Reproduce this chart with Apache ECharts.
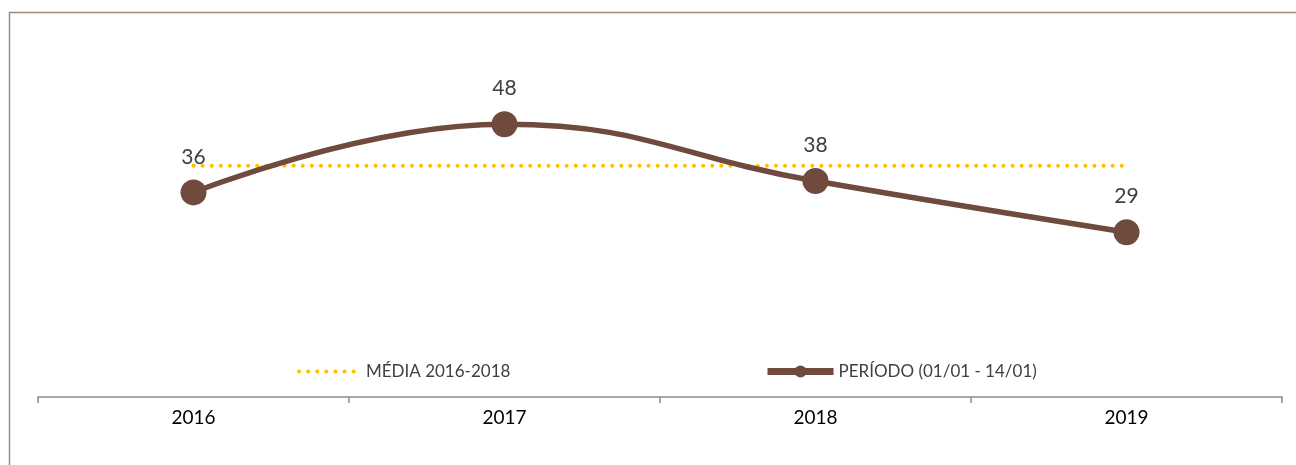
<!DOCTYPE html>
<html><head><meta charset="utf-8">
<script src="https://cdn.jsdelivr.net/npm/echarts@6/dist/echarts.min.js"></script>
<style>html,body{margin:0;padding:0;background:#fff}#c{width:1296px;height:465px}</style>
</head><body><div id="c"></div>
<script>
const categories = ['2016', '2017', '2018', '2019'];
const periodValues = [36, 48, 38, 29];
const averageValues = [40.67, 40.67, 40.67, 40.67];
const seriesNames = ['MÉDIA 2016-2018', 'PERÍODO (01/01 - 14/01)'];

const brown = '#704A3C';
const yellow = '#FFC000';
const font = 'Lato, "Open Sans", sans-serif';

const chart = echarts.init(document.getElementById('c'));
chart.setOption({
  animation: false,
  backgroundColor: '#fff',
  graphic: [{
    type: 'rect', shape: {x: 9.5, y: 12.5, width: 1400, height: 600},
    style: {fill: 'none', stroke: '#A08A80', lineWidth: 1.5}
  }],
  grid: {left: 38, right: 14, top: 56, bottom: 68},
  legend: [
    {data: [seriesNames[0]], left: 292, top: 358, itemWidth: 62, itemHeight: 14, itemGap: 6,
     itemStyle: {opacity: 0},
     lineStyle: {width: 4, type: [0.1, 9], cap: 'round', color: yellow},
     textStyle: {fontFamily: font, fontSize: 17, color: '#404040'}},
    {data: [seriesNames[1]], left: 759, top: 358, itemWidth: 66, itemHeight: 15, itemGap: 5,
     lineStyle: {width: 7, color: brown},
     textStyle: {fontFamily: font, fontSize: 17, color: '#404040'}}
  ],
  xAxis: {
    type: 'category', data: categories, boundaryGap: true,
    axisLine: {lineStyle: {color: '#8C8C8C', width: 1.5}},
    axisTick: {show: true, length: 6, inside: false, lineStyle: {color: '#8C8C8C', width: 1.5}},
    axisLabel: {fontFamily: font, fontSize: 19, color: '#000', margin: 11}
  },
  yAxis: {type: 'value', min: 0, max: 60, show: false, splitLine: {show: false}},
  series: [
    {
      name: seriesNames[0], type: 'line', data: averageValues,
      symbol: 'none', color: yellow,
      lineStyle: {color: yellow, width: 4, type: [0.1, 9], cap: 'round'},
      z: 1
    },
    {
      name: seriesNames[1], type: 'line', data: periodValues,
      smooth: 0.45, symbol: 'circle', symbolSize: 26, color: brown,
      lineStyle: {color: brown, width: 5.5},
      itemStyle: {color: brown},
      label: {show: true, position: 'top', distance: 12, fontFamily: font, fontSize: 21, color: '#404040'},
      z: 2
    }
  ]
});
</script></body></html>
